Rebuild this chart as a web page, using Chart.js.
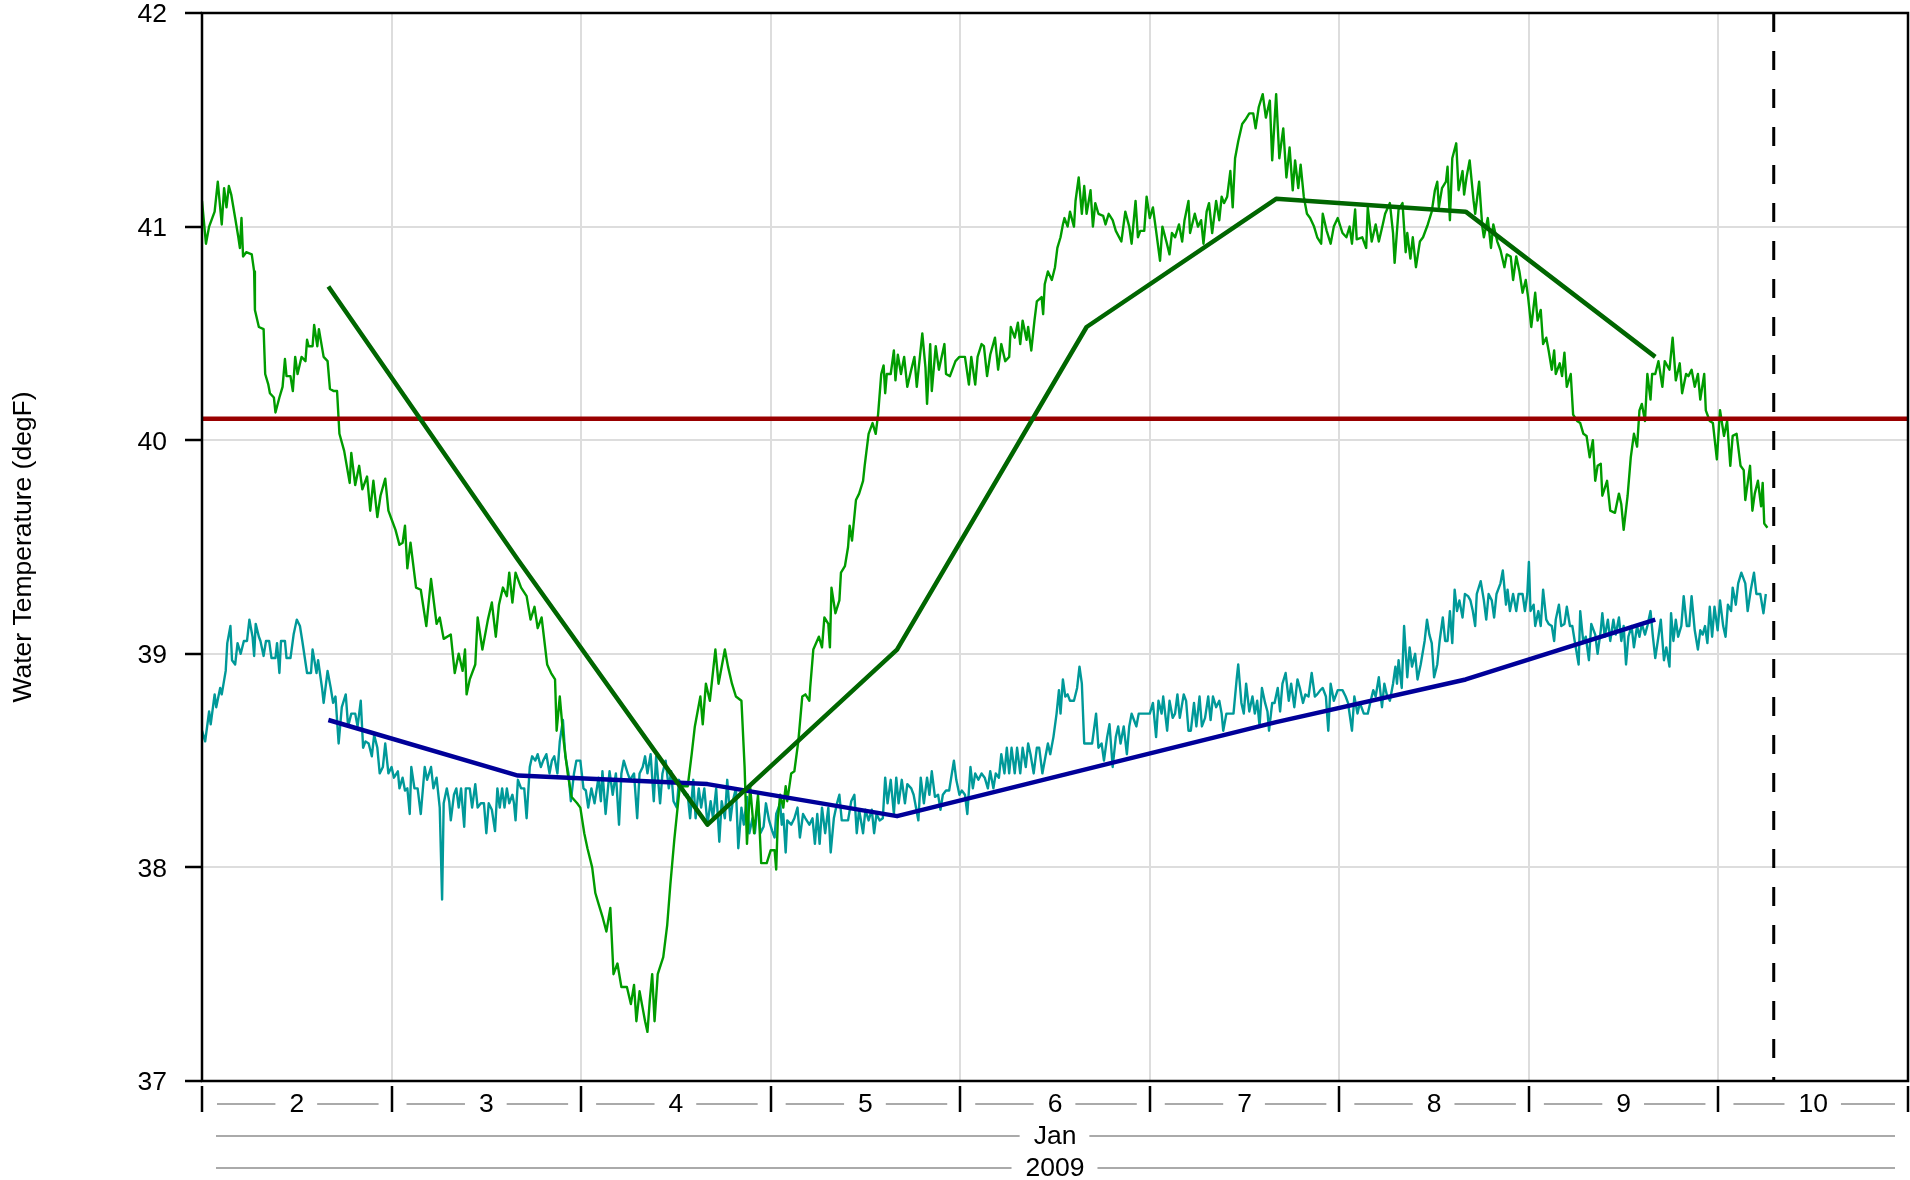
<!DOCTYPE html>
<html lang="en">
<head>
<meta charset="UTF-8">
<title>Water Temperature</title>
<script src="https://cdn.jsdelivr.net/npm/chart.js@4.4.1/dist/chart.umd.min.js"></script>
<style>
  html, body { margin: 0; padding: 0; background: #fff; }
  #wrap { width: 1910px; height: 1180px; }
</style>
</head>
<body>
<div id="wrap"><canvas id="chart" width="1910" height="1180"></canvas></div>
<script>
// [hours since 2 Jan 2009 00:00, water temperature degF]
const greenObs = [
  [0,41.12],[0.5,40.92],[0.9,41.0],[1.6,41.07],[2,41.21],[2.5,41.01],[2.8,41.18],[3.1,41.09],[3.4,41.19],[3.7,41.15],
  [4.2,41.04],[4.6,40.95],[4.8,40.90],[5,41.04],[5.2,40.86],[5.6,40.88],[6.3,40.87],[6.6,40.79],[6.7,40.61],[7.2,40.53],
  [7.8,40.52],[8,40.31],[8.4,40.26],[8.6,40.22],[9.1,40.20],[9.3,40.13],[9.8,40.20],[10.2,40.25],[10.5,40.38],[10.7,40.30],
  [11.2,40.30],[11.5,40.23],[11.8,40.39],[12.1,40.31],[12.6,40.39],[13.1,40.37],[13.3,40.47],[13.5,40.44],[14,40.44],[14.2,40.54],
  [14.6,40.44],[14.8,40.52],[15.4,40.39],[15.9,40.37],[16.2,40.24],[16.7,40.23],[17.1,40.23],[17.4,40.03],[18,39.95],[18.7,39.80],
  [18.9,39.94],[19.4,39.79],[19.9,39.88],[20.3,39.77],[20.9,39.83],[21.3,39.67],[21.7,39.81],[22.2,39.64],[22.6,39.74],[23.2,39.82],
  [23.6,39.67],[24,39.63],[24.5,39.58],[25,39.51],[25.4,39.52],[25.7,39.60],[26,39.40],[26.4,39.52],[27.1,39.31],[27.7,39.30],
  [28.4,39.13],[29,39.35],[29.7,39.14],[30.1,39.17],[30.6,39.07],[31.5,39.09],[32,38.91],[32.5,39.0],[33,38.92],[33.3,39.02],
  [33.5,38.81],[33.9,38.88],[34.6,38.95],[34.9,39.17],[35.5,39.02],[36.2,39.16],[36.7,39.24],[37.2,39.08],[37.6,39.23],[38.1,39.31],
  [38.6,39.27],[38.9,39.38],[39.3,39.24],[39.7,39.38],[40.4,39.31],[41.1,39.27],[41.6,39.16],[42.1,39.22],[42.5,39.12],[43,39.17],
  [43.7,38.95],[44.2,38.91],[44.7,38.88],[44.9,38.64],[45.3,38.80],[45.8,38.59],[46.3,38.44],[46.8,38.33],[47.5,38.30],[47.9,38.28],
  [48.4,38.16],[48.8,38.09],[49.4,38.0],[49.8,37.88],[50.2,37.83],[50.7,37.77],[51.2,37.70],[51.7,37.81],[52.1,37.50],[52.6,37.55],
  [53.1,37.44],[53.8,37.44],[54.3,37.36],[54.7,37.45],[55,37.28],[55.4,37.42],[55.8,37.34],[56.1,37.28],[56.4,37.23],[56.7,37.38],
  [57,37.50],[57.3,37.28],[57.7,37.50],[58.4,37.58],[58.9,37.73],[59.3,37.92],[59.8,38.13],[60.3,38.31],[60.5,38.38],[61.5,38.38],
  [62,38.53],[62.4,38.66],[63.1,38.80],[63.4,38.67],[63.8,38.86],[64.3,38.78],[65,39.02],[65.4,38.86],[66.2,39.02],[66.6,38.94],
  [67.1,38.86],[67.6,38.80],[68.3,38.78],[68.7,38.47],[69,38.11],[69.4,38.38],[69.9,38.16],[70.4,38.34],[70.8,38.02],[71.5,38.02],
  [72,38.08],[72.5,38.08],[72.7,37.99],[72.9,38.22],[73.2,38.34],[73.6,38.28],[73.9,38.38],[74.1,38.31],[74.6,38.44],[75,38.45],
  [75.5,38.59],[76,38.80],[76.4,38.81],[76.9,38.78],[77,38.84],[77.4,39.02],[78.1,39.08],[78.5,39.03],[78.8,39.17],[79.3,39.14],
  [79.5,39.03],[79.7,39.31],[80.2,39.19],[80.7,39.25],[80.9,39.38],[81.4,39.41],[81.8,39.50],[82,39.60],[82.3,39.53],[82.8,39.72],
  [83.2,39.75],[83.7,39.81],[83.9,39.88],[84.4,40.03],[84.9,40.08],[85.3,40.03],[85.6,40.12],[86,40.31],[86.3,40.35],[86.5,40.22],
  [86.7,40.31],[87.2,40.31],[87.6,40.42],[87.8,40.28],[88.1,40.40],[88.5,40.31],[88.9,40.39],[89.3,40.25],[89.8,40.33],[90.2,40.39],
  [90.5,40.25],[91.2,40.50],[91.6,40.34],[91.8,40.17],[92.2,40.45],[92.4,40.23],[92.9,40.44],[93.3,40.33],[94,40.45],[94.2,40.31],
  [94.7,40.30],[95.4,40.37],[95.9,40.39],[96.6,40.39],[97.1,40.26],[97.4,40.39],[97.9,40.26],[98.2,40.39],[98.7,40.45],[99,40.44],
  [99.4,40.30],[99.8,40.40],[100.4,40.48],[100.8,40.33],[101.2,40.45],[101.7,40.37],[102.2,40.39],[102.4,40.53],[102.9,40.48],[103.3,40.55],
  [103.6,40.45],[103.9,40.56],[104.4,40.47],[104.6,40.53],[105,40.42],[105.4,40.56],[105.7,40.65],[106.3,40.67],[106.5,40.59],[106.7,40.73],
  [107.1,40.79],[107.6,40.75],[108,40.81],[108.3,40.90],[108.7,40.95],[109,41.01],[109.2,41.04],[109.6,41.0],[109.9,41.07],[110.4,41.0],
  [110.6,41.12],[111,41.23],[111.4,41.06],[111.7,41.19],[112,41.06],[112.5,41.17],[112.8,41.0],[113.1,41.11],[113.5,41.06],[114.1,41.05],
  [114.4,41.01],[114.8,41.06],[115.3,41.03],[115.7,40.98],[116.4,40.93],[116.9,41.07],[117.4,41.0],[117.7,40.92],[118.2,41.12],[118.5,40.95],
  [118.8,40.98],[119.3,40.98],[119.6,41.14],[120,41.04],[120.4,41.09],[120.8,40.98],[121.3,40.84],[121.6,41.0],[122.1,40.93],[122.5,40.87],
  [122.8,40.97],[123.2,40.95],[123.7,41.01],[124.1,40.93],[124.4,41.03],[124.9,41.12],[125.1,40.97],[125.7,41.06],[126.1,41.0],[126.5,41.03],
  [126.8,40.92],[127.2,41.07],[127.5,41.11],[127.9,40.97],[128.4,41.12],[128.8,41.03],[129.1,41.14],[129.4,41.11],[129.8,41.14],[130.2,41.26],
  [130.5,41.09],[130.8,41.32],[131.2,41.40],[131.7,41.48],[132.1,41.50],[132.6,41.53],[133.1,41.53],[133.4,41.46],[133.8,41.56],[134.3,41.62],
  [134.7,41.51],[135.2,41.59],[135.5,41.31],[136,41.62],[136.4,41.32],[136.9,41.46],[137.3,41.23],[137.7,41.37],[138.1,41.17],[138.4,41.31],
  [138.8,41.18],[139.1,41.29],[139.5,41.14],[139.9,41.06],[140.3,41.04],[140.8,41.0],[141.2,40.95],[141.7,40.92],[141.9,41.06],[142.4,40.98],
  [142.9,40.92],[143.3,41.0],[143.8,41.04],[144.4,40.97],[144.9,40.95],[145.3,41.0],[145.6,40.92],[146,41.08],[146.2,40.94],[146.9,40.95],
  [147.4,40.90],[147.6,41.09],[148.1,40.93],[148.6,41.01],[149,40.93],[149.5,41.01],[149.8,41.06],[150.4,41.11],[150.8,40.97],[151,40.83],
  [151.5,41.08],[152,41.11],[152.4,40.88],[152.6,40.97],[153,40.85],[153.3,40.95],[153.7,40.81],[154.2,40.93],[154.6,40.95],[155.2,41.01],
  [155.7,41.07],[156.1,41.17],[156.4,41.21],[156.6,41.09],[157,41.18],[157.5,41.21],[157.7,41.28],[158,41.03],[158.3,41.32],[158.8,41.39],
  [159.1,41.17],[159.6,41.26],[159.8,41.15],[160.1,41.23],[160.5,41.31],[161,41.12],[161.2,41.06],[161.7,41.21],[162.1,41.0],[162.3,40.95],
  [162.8,41.04],[163.2,40.90],[163.5,41.01],[164,40.93],[164.4,40.89],[164.9,40.81],[165.2,40.87],[165.7,40.86],[166,40.75],[166.4,40.86],
  [166.8,40.79],[167.2,40.69],[167.6,40.75],[167.9,40.67],[168.3,40.53],[168.8,40.69],[169.1,40.56],[169.5,40.61],[169.8,40.45],[170.2,40.48],
  [170.5,40.42],[170.9,40.33],[171.2,40.42],[171.4,40.31],[171.9,40.36],[172.2,40.30],[172.5,40.41],[172.8,40.25],[173.3,40.31],[173.6,40.12],
  [174.1,40.09],[174.5,40.08],[174.9,40.03],[175.3,40.02],[175.7,39.92],[176.1,40.0],[176.4,39.81],[176.7,39.88],[177.1,39.89],[177.3,39.74],
  [177.9,39.81],[178.3,39.67],[178.9,39.66],[179.4,39.75],[179.7,39.70],[180,39.58],[180.5,39.74],[180.9,39.92],[181.3,40.03],[181.7,39.97],
  [182,40.14],[182.3,40.17],[182.7,40.09],[183,40.31],[183.4,40.19],[183.6,40.31],[184,40.31],[184.4,40.37],[184.9,40.25],[185.2,40.37],
  [185.8,40.33],[186.2,40.48],[186.6,40.28],[187.1,40.36],[187.4,40.22],[187.9,40.31],[188.2,40.30],[188.6,40.33],[189,40.25],[189.4,40.31],
  [189.7,40.19],[190.2,40.31],[190.4,40.14],[190.9,40.09],[191.3,40.08],[191.8,39.91],[192.2,40.14],[192.7,40.02],[193.1,40.09],[193.5,39.88],
  [193.8,40.02],[194.3,40.03],[194.8,39.88],[195.2,39.86],[195.4,39.72],[196,39.88],[196.3,39.67],[196.6,39.75],[197,39.81],[197.4,39.69],
  [197.6,39.80],[197.8,39.61],[198.2,39.59]
];
const tealObs = [
  [0,38.64],[0.4,38.59],[0.9,38.73],[1.1,38.67],[1.6,38.81],[1.8,38.75],[2.3,38.84],[2.5,38.81],[3,38.92],[3.2,39.05],
  [3.6,39.13],[3.8,38.97],[4.2,38.95],[4.5,39.05],[4.9,39.0],[5.3,39.06],[5.7,39.06],[6,39.16],[6.4,39.08],[6.6,38.99],
  [6.8,39.14],[7.2,39.08],[7.4,39.06],[7.8,38.99],[8.1,39.06],[8.5,39.06],[8.8,38.98],[9.3,38.98],[9.5,39.05],[9.8,38.91],
  [10,39.06],[10.5,39.06],[10.7,38.98],[11.2,38.98],[11.6,39.09],[12,39.16],[12.4,39.13],[12.7,39.06],[13.3,38.91],[13.8,38.91],
  [14,39.02],[14.5,38.91],[14.7,38.97],[15.2,38.84],[15.4,38.77],[15.9,38.92],[16.3,38.84],[16.6,38.77],[16.9,38.80],[17.3,38.58],
  [17.7,38.75],[18.2,38.81],[18.5,38.66],[18.9,38.72],[19.4,38.72],[19.7,38.66],[20.1,38.78],[20.4,38.56],[20.7,38.59],[21.1,38.58],
  [21.5,38.52],[21.8,38.62],[22.2,38.56],[22.5,38.44],[22.9,38.47],[23.2,38.58],[23.6,38.44],[24,38.47],[24.3,38.42],[24.8,38.45],
  [25,38.37],[25.4,38.42],[25.7,38.36],[26,38.37],[26.3,38.25],[26.5,38.47],[26.9,38.37],[27.3,38.37],[27.7,38.25],[28.2,38.47],
  [28.5,38.41],[29,38.47],[29.3,38.37],[29.7,38.42],[30.1,38.28],[30.4,37.85],[30.6,38.30],[31,38.37],[31.3,38.31],[31.5,38.22],
  [31.9,38.34],[32.2,38.37],[32.5,38.28],[32.8,38.37],[33.2,38.19],[33.4,38.37],[33.9,38.37],[34.2,38.28],[34.6,38.39],[34.9,38.28],
  [35.3,38.30],[35.7,38.30],[36,38.16],[36.3,38.30],[36.7,38.27],[37.1,38.17],[37.4,38.37],[37.7,38.28],[38,38.37],[38.3,38.28],
  [38.6,38.37],[38.9,38.30],[39.3,38.34],[39.5,38.30],[39.7,38.22],[40,38.41],[40.4,38.37],[40.8,38.37],[41.1,38.23],[41.5,38.47],
  [41.8,38.52],[42.2,38.50],[42.5,38.53],[42.9,38.47],[43.2,38.50],[43.6,38.53],[44,38.44],[44.3,38.50],[44.6,38.52],[45,38.44],
  [45.3,38.59],[45.7,38.69],[46,38.52],[46.4,38.44],[46.7,38.31],[47.1,38.44],[47.4,38.50],[47.9,38.50],[48.3,38.37],[48.6,38.36],
  [48.9,38.28],[49.3,38.37],[49.7,38.30],[50.2,38.42],[50.5,38.31],[50.7,38.45],[51.1,38.25],[51.6,38.45],[52,38.34],[52.4,38.44],
  [52.8,38.20],[53.1,38.44],[53.4,38.50],[53.9,38.44],[54.2,38.41],[54.7,38.44],[55.1,38.23],[55.4,38.44],[55.8,38.47],[56.1,38.52],
  [56.4,38.44],[56.8,38.53],[57.2,38.31],[57.5,38.52],[58,38.30],[58.3,38.44],[58.7,38.50],[59.1,38.37],[59.4,38.45],[59.7,38.31],
  [60.1,38.28],[60.4,38.41],[60.8,38.37],[61.1,38.34],[61.5,38.34],[61.8,38.23],[62.2,38.41],[62.5,38.23],[62.9,38.37],[63.2,38.28],
  [63.6,38.37],[64,38.20],[64.4,38.31],[64.7,38.23],[65.1,38.37],[65.5,38.12],[65.8,38.31],[66.2,38.23],[66.5,38.41],[66.9,38.22],
  [67.2,38.31],[67.6,38.37],[67.9,38.09],[68.3,38.28],[68.6,38.20],[69,38.33],[69.3,38.16],[69.7,38.23],[70,38.16],[70.4,38.31],
  [70.7,38.16],[71.1,38.19],[71.4,38.30],[71.8,38.22],[72.2,38.17],[72.5,38.14],[72.7,38.25],[73.2,38.30],[73.4,38.20],[73.6,38.25],
  [73.9,38.07],[74.1,38.22],[74.6,38.20],[75,38.23],[75.4,38.28],[75.7,38.14],[76.1,38.25],[76.4,38.23],[76.9,38.20],[77.3,38.23],
  [77.6,38.11],[77.9,38.25],[78.2,38.11],[78.5,38.28],[78.9,38.16],[79.3,38.28],[79.6,38.07],[80,38.23],[80.4,38.30],[80.7,38.34],
  [81,38.22],[81.4,38.22],[81.8,38.22],[82.2,38.31],[82.6,38.34],[82.9,38.16],[83.2,38.27],[83.7,38.16],[84,38.27],[84.4,38.22],
  [84.8,38.27],[85.1,38.16],[85.4,38.25],[85.8,38.22],[86.2,38.23],[86.5,38.42],[86.8,38.30],[87.2,38.41],[87.6,38.25],[87.9,38.42],
  [88.2,38.30],[88.6,38.41],[89,38.30],[89.3,38.39],[89.8,38.37],[90.1,38.34],[90.4,38.28],[90.7,38.22],[91,38.42],[91.4,38.30],
  [91.8,38.42],[92.1,38.34],[92.4,38.45],[92.8,38.33],[93.2,38.34],[93.5,38.27],[93.8,38.34],[94.2,38.36],[94.6,38.36],[95.2,38.50],
  [95.5,38.41],[95.9,38.34],[96.2,38.36],[96.6,38.34],[96.9,38.25],[97.3,38.47],[97.6,38.37],[97.9,38.44],[98.3,38.41],[98.7,38.44],
  [99.1,38.42],[99.5,38.37],[99.8,38.45],[100.2,38.37],[100.5,38.44],[100.9,38.42],[101.2,38.53],[101.6,38.44],[101.9,38.56],[102.2,38.44],
  [102.5,38.56],[102.9,38.44],[103.2,38.56],[103.6,38.44],[103.9,38.56],[104.3,38.47],[104.6,38.58],[104.9,38.53],[105.3,38.44],[105.7,38.56],
  [106,38.56],[106.4,38.44],[106.8,38.52],[107.1,38.58],[107.4,38.53],[107.8,38.61],[108.2,38.72],[108.5,38.83],[108.7,38.72],[109,38.88],
  [109.3,38.80],[109.6,38.81],[109.9,38.78],[110.4,38.78],[110.8,38.84],[111.1,38.94],[111.4,38.86],[111.7,38.58],[112.2,38.58],[112.7,38.58],
  [113.2,38.72],[113.5,38.56],[113.9,38.58],[114.2,38.50],[114.6,38.61],[114.9,38.67],[115.3,38.47],[115.7,38.61],[116,38.66],[116.3,38.58],
  [116.7,38.66],[117.1,38.53],[117.4,38.66],[117.7,38.72],[118,38.69],[118.3,38.66],[118.6,38.72],[119.1,38.72],[119.6,38.72],[120,38.72],
  [120.4,38.77],[120.8,38.61],[121.1,38.78],[121.5,38.72],[121.7,38.80],[122.2,38.64],[122.5,38.78],[122.9,38.70],[123.2,38.72],[123.5,38.81],
  [123.8,38.70],[124.3,38.81],[124.6,38.78],[124.9,38.64],[125.2,38.64],[125.6,38.77],[125.9,38.66],[126.3,38.80],[126.6,38.66],[127,38.70],
  [127.4,38.80],[127.7,38.69],[128,38.80],[128.4,38.75],[128.8,38.78],[129.1,38.72],[129.3,38.64],[129.7,38.72],[130.3,38.72],[130.6,38.72],
  [131,38.88],[131.2,38.95],[131.6,38.77],[131.9,38.72],[132.2,38.86],[132.6,38.73],[133,38.80],[133.3,38.72],[133.6,38.78],[133.9,38.66],
  [134.2,38.84],[134.6,38.77],[134.9,38.73],[135.1,38.64],[135.5,38.77],[135.8,38.77],[136.2,38.84],[136.5,38.73],[136.8,38.86],[137.2,38.91],
  [137.6,38.78],[137.9,38.86],[138.3,38.75],[138.7,38.88],[139,38.84],[139.4,38.77],[139.7,38.81],[140.1,38.80],[140.5,38.91],[140.9,38.80],
  [141.2,38.81],[141.6,38.83],[141.9,38.84],[142.3,38.80],[142.6,38.64],[142.9,38.86],[143.3,38.78],[143.8,38.83],[144.4,38.83],[144.8,38.80],
  [145.1,38.77],[145.6,38.64],[145.9,38.80],[146.3,38.72],[146.6,38.77],[147.1,38.72],[147.6,38.72],[148.1,38.80],[148.3,38.83],[148.6,38.80],
  [149,38.89],[149.4,38.75],[149.7,38.86],[150,38.81],[150.4,38.78],[150.8,38.86],[151.1,38.94],[151.3,38.86],[151.5,38.97],[151.9,38.84],
  [152.2,39.13],[152.6,38.89],[152.9,39.03],[153.2,38.94],[153.6,39.0],[153.9,38.88],[154.3,38.95],[154.8,39.06],[155.1,39.16],[155.4,39.09],
  [155.7,39.05],[156,38.89],[156.4,38.95],[156.7,39.06],[157.1,39.17],[157.4,39.06],[157.7,39.06],[158,39.20],[158.3,39.05],[158.6,39.30],
  [158.9,39.20],[159.2,39.25],[159.6,39.17],[159.9,39.28],[160.3,39.27],[160.6,39.25],[160.9,39.20],[161.2,39.13],[161.4,39.28],[161.9,39.34],
  [162.3,39.25],[162.6,39.16],[162.9,39.28],[163.3,39.25],[163.6,39.17],[163.9,39.28],[164.4,39.33],[164.7,39.39],[165.1,39.23],[165.3,39.30],
  [165.6,39.20],[166,39.28],[166.4,39.20],[166.7,39.28],[167.2,39.28],[167.5,39.20],[167.8,39.28],[168,39.43],[168.2,39.20],[168.6,39.23],
  [168.8,39.13],[169.2,39.20],[169.5,39.13],[169.8,39.30],[170.2,39.16],[170.5,39.14],[170.9,39.13],[171.2,39.06],[171.4,39.16],[171.8,39.23],
  [172.1,39.13],[172.5,39.14],[172.8,39.22],[173.2,39.13],[173.5,39.13],[173.8,39.06],[174.3,38.95],[174.5,39.20],[174.9,39.05],[175.2,39.08],
  [175.6,38.97],[175.9,39.14],[176.4,39.09],[176.7,39.0],[177.1,39.11],[177.3,39.19],[177.6,39.08],[178,39.16],[178.3,39.06],[178.7,39.16],
  [179,39.09],[179.4,39.17],[179.7,39.06],[180,39.13],[180.3,38.95],[180.6,39.08],[181,39.13],[181.3,39.03],[181.7,39.13],[182,39.08],
  [182.3,39.14],[182.7,39.09],[183,39.13],[183.4,39.20],[183.7,39.08],[184,38.98],[184.4,39.08],[184.7,39.16],[185.1,38.97],[185.4,39.03],
  [185.8,38.94],[186,39.19],[186.3,39.06],[186.6,39.16],[186.9,39.08],[187.3,39.13],[187.6,39.27],[188,39.13],[188.3,39.13],[188.6,39.27],
  [189,39.11],[189.4,39.02],[189.7,39.11],[190,39.09],[190.3,39.13],[190.6,39.05],[190.9,39.22],[191.2,39.08],[191.5,39.22],[191.9,39.11],
  [192.2,39.25],[192.6,39.13],[192.9,39.08],[193.2,39.23],[193.6,39.20],[193.8,39.31],[194.2,39.23],[194.5,39.33],[194.9,39.38],[195.4,39.33],
  [195.7,39.20],[196.1,39.30],[196.5,39.38],[196.8,39.28],[197.3,39.28],[197.7,39.19],[198,39.28]
];

// daily summary lines, plotted at 16:00 each day
const dailyHours = [16, 40, 64, 88, 112, 136, 160, 184];
const greenDaily = [40.72, 39.44, 38.20, 39.02, 40.53, 41.13, 41.07, 40.39];
const blueDaily = [38.69, 38.43, 38.39, 38.24, 38.46, 38.68, 38.88, 39.16];

const threshold = 40.1;
const cutoffHour = 199;

const dayLabels = ['2', '3', '4', '5', '6', '7', '8', '9', '10'];
const monthLabel = 'Jan';
const yearLabel = '2009';
const yTicks = [37, 38, 39, 40, 41, 42];
const yTitle = 'Water Temperature (degF)';

const FONT = '"Liberation Sans", Arial, Helvetica, sans-serif';
const FONT_SIZE = 26.5;
const xMax = dayLabels.length * 24;

const pts = arr => arr.map(p => ({ x: p[0], y: p[1] }));
const daily = vals => dailyHours.map((h, i) => ({ x: h, y: vals[i] }));

// box, date axis with the ruled labels, and the y title
const axisDecor = {
  id: 'axisDecor',
  afterDraw(chart) {
    const { ctx, chartArea: a, scales: { x } } = chart;
    ctx.save();

    ctx.strokeStyle = '#000';
    ctx.lineWidth = 2.5;
    ctx.strokeRect(a.left, a.top, a.right - a.left, a.bottom - a.top);

    for (let d = 0; d <= dayLabels.length; d++) {
      const px = Math.round(x.getPixelForValue(d * 24));
      ctx.beginPath();
      ctx.moveTo(px, a.bottom + 5);
      ctx.lineTo(px, a.bottom + 31);
      ctx.stroke();
    }

    ctx.font = FONT_SIZE + 'px ' + FONT;
    ctx.fillStyle = '#000';
    ctx.textAlign = 'center';
    ctx.textBaseline = 'middle';

    function ruled(text, x0, x1, y, in0, in1) {
      const cx = (x0 + x1) / 2;
      const w = ctx.measureText(text).width;
      ctx.strokeStyle = '#aaaaaa';
      ctx.lineWidth = 2;
      ctx.beginPath();
      ctx.moveTo(x0 + in0, y);
      ctx.lineTo(cx - w / 2 - 14, y);
      ctx.moveTo(cx + w / 2 + 13, y);
      ctx.lineTo(x1 - in1, y);
      ctx.stroke();
      ctx.fillText(text, cx, y + 1);
    }

    dayLabels.forEach((lab, i) => {
      ruled(lab, x.getPixelForValue(i * 24), x.getPixelForValue((i + 1) * 24), a.bottom + 23, 15, 13);
    });
    ruled(monthLabel, a.left, a.right, a.bottom + 55, 14, 13);
    ruled(yearLabel, a.left, a.right, a.bottom + 87, 14, 13);

    ctx.translate(24, (a.top + a.bottom) / 2);
    ctx.rotate(-Math.PI / 2);
    ctx.fillText(yTitle, 0, 0);
    ctx.restore();
  }
};

new Chart(document.getElementById('chart'), {
  type: 'line',
  data: {
    datasets: [
      { data: pts(tealObs), borderColor: '#009999', borderWidth: 2.4, order: 6 },
      { data: pts(greenObs), borderColor: '#009c00', borderWidth: 2.4, order: 5 },
      { data: [{ x: 0, y: threshold }, { x: xMax, y: threshold }], borderColor: '#990000', borderWidth: 4.5, order: 4 },
      { data: daily(blueDaily), borderColor: '#000099', borderWidth: 4.5, order: 3 },
      { data: daily(greenDaily), borderColor: '#006600', borderWidth: 4.5, order: 2 },
      { data: [{ x: cutoffHour, y: yTicks[yTicks.length - 1] }, { x: cutoffHour, y: yTicks[0] }],
        borderColor: '#000', borderWidth: 3, borderDash: [19, 19], order: 1 }
    ]
  },
  options: {
    responsive: false,
    animation: false,
    devicePixelRatio: 1,
    events: [],
    layout: { padding: { left: 0, top: 13, right: 2, bottom: 99 } },
    elements: {
      point: { radius: 0 },
      line: { tension: 0, fill: false, borderJoinStyle: 'round', borderCapStyle: 'butt' }
    },
    plugins: { legend: { display: false }, tooltip: { enabled: false } },
    scales: {
      x: {
        type: 'linear',
        min: 0,
        max: xMax,
        ticks: { stepSize: 24, display: false },
        grid: { color: '#dddddd', lineWidth: 2, drawTicks: false },
        border: { display: false },
        afterFit(s) { s.height = 0; s.paddingLeft = 0; s.paddingRight = 0; }
      },
      y: {
        min: yTicks[0],
        max: yTicks[yTicks.length - 1],
        afterBuildTicks(s) { s.ticks = yTicks.map(v => ({ value: v })); },
        ticks: { color: '#000', padding: 18, labelOffset: 2, font: { family: FONT, size: FONT_SIZE, lineHeight: 1 } },
        grid: { color: '#dddddd', lineWidth: 2, tickLength: 17, tickColor: '#000', tickWidth: 2.5 },
        border: { display: false },
        afterFit(s) { s.width = 202; s.paddingTop = 0; s.paddingBottom = 0; }
      }
    }
  },
  plugins: [axisDecor]
});
</script>
</body>
</html>
